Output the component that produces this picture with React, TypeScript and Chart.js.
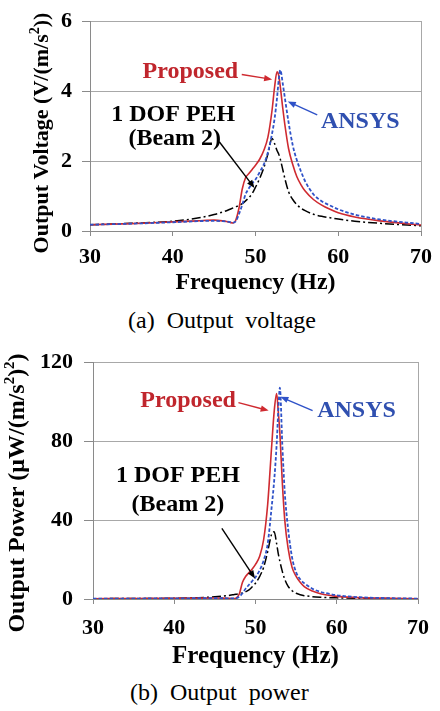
import React, { useEffect, useRef } from "react";
import { Chart, registerables } from "chart.js";

Chart.register(...registerables);

// ---------------- data ----------------
const freq = [30, 35, 40, 43, 45, 46, 46.5, 47, 47.3, 47.6, 48, 48.4, 48.8, 49.2, 49.6, 50, 50.5, 51, 51.5, 52, 52.3, 52.6, 52.8, 53, 53.3, 53.6, 54, 54.5, 55, 55.5, 56, 57, 58, 59, 60, 62, 65, 70];

const voltageProposed = [0.18, 0.21, 0.26, 0.29, 0.31, 0.29, 0.27, 0.24, 0.23, 0.3, 0.65, 1.2, 1.52, 1.64, 1.76, 1.88, 2.05, 2.3, 2.68, 3.45, 4.1, 4.55, 4.45, 4.12, 3.5, 2.95, 2.35, 1.9, 1.55, 1.32, 1.14, 0.9, 0.74, 0.62, 0.52, 0.4, 0.29, 0.17];
const voltageAnsys = [0.18, 0.21, 0.25, 0.28, 0.29, 0.28, 0.27, 0.25, 0.24, 0.27, 0.48, 0.75, 1.05, 1.22, 1.36, 1.47, 1.68, 1.9, 2.25, 2.78, 3.2, 3.8, 4.3, 4.6, 4.2, 3.72, 3.1, 2.45, 2.02, 1.7, 1.42, 1.05, 0.85, 0.73, 0.62, 0.47, 0.33, 0.2];
const voltageOneDof = [0.18, 0.22, 0.28, 0.37, 0.47, 0.54, 0.58, 0.63, 0.66, 0.69, 0.73, 0.78, 0.86, 0.95, 1.07, 1.25, 1.5, 1.8, 2.2, 2.64, 2.5, 2.3, 2.2, 2.05, 1.75, 1.45, 1.12, 0.9, 0.75, 0.65, 0.58, 0.48, 0.42, 0.38, 0.34, 0.28, 0.22, 0.15];

const powerProposed = [0.16, 0.22, 0.34, 0.42, 0.48, 0.42, 0.36, 0.29, 0.26, 0.45, 2.5, 8.5, 11.5, 13.4, 15.2, 17.5, 21.5, 30, 48, 78, 95, 104, 95, 84, 59, 40, 26, 16, 11.5, 8.5, 6.3, 4, 2.7, 1.9, 1.35, 0.8, 0.42, 0.15];
const powerAnsys = [0.16, 0.22, 0.31, 0.39, 0.42, 0.39, 0.36, 0.31, 0.29, 0.35, 1.2, 2.9, 5.3, 7.2, 9.1, 11, 14.5, 19.5, 28, 47, 60, 78, 95, 107, 78, 54, 36, 21, 13.5, 10, 8, 5.2, 3.6, 2.7, 1.9, 1.1, 0.55, 0.2];
const powerOneDof = [0.16, 0.24, 0.39, 0.68, 1.1, 1.45, 1.7, 2.0, 2.2, 2.4, 2.7, 3.1, 3.7, 4.6, 6.2, 8, 11.3, 16, 24, 33, 34, 28, 23, 19, 14, 10, 6.5, 4.2, 2.9, 2.2, 1.7, 1.2, 0.9, 0.7, 0.58, 0.4, 0.25, 0.12];

const freqTicks = [30, 40, 50, 60, 70];
const voltageTicks = [0, 2, 4, 6];
const powerTicks = [0, 40, 80, 120];

const seriesLabels = ["ANSYS", "Proposed", "1 DOF PEH (Beam 2)"];

// ---------------- styles ----------------
const SERIF = "'Liberation Serif', 'Times New Roman', Times, serif";
const RED = "#cf2a30";
const RED_TEXT = "#c0262d";
const BLUE = "#2f52c8";
const BLUE_TEXT = "#3050b0";
const GRID = "#a8a8a8";
const AXIS = "#8a8a8a";

type Seg = { t: string; sup?: boolean };
type Note = { text: string; x: number; y: number; color: string };
type Arrow = { from: [number, number]; to: [number, number]; color: string };

function drawRotatedRich(ctx: CanvasRenderingContext2D, segs: Seg[], cx: number, cy: number, size: number) {
  ctx.save();
  ctx.translate(cx, cy);
  ctx.rotate(-Math.PI / 2);
  ctx.textBaseline = "middle";
  ctx.textAlign = "left";
  ctx.fillStyle = "#000";
  const base = `bold ${size}px ${SERIF}`;
  const sup = `bold ${Math.round(size * 0.62)}px ${SERIF}`;
  let total = 0;
  for (const s of segs) {
    ctx.font = s.sup ? sup : base;
    total += ctx.measureText(s.t).width;
  }
  let x = -total / 2;
  for (const s of segs) {
    ctx.font = s.sup ? sup : base;
    ctx.fillText(s.t, x, s.sup ? -size * 0.32 : 0);
    x += ctx.measureText(s.t).width;
  }
  ctx.restore();
}

function makeNotesPlugin(id: string, notes: Note[], arrows: Arrow[], fontSize: number, yTitle: { segs: Seg[]; cx: number; cy: number; size: number }) {
  return {
    id,
    afterDraw(chart: any) {
      const ctx: CanvasRenderingContext2D = chart.ctx;
      const xs = chart.scales.x;
      const ys = chart.scales.y;
      ctx.save();
      for (const a of arrows) {
        const x1 = xs.getPixelForValue(a.from[0]);
        const y1 = ys.getPixelForValue(a.from[1]);
        const x2 = xs.getPixelForValue(a.to[0]);
        const y2 = ys.getPixelForValue(a.to[1]);
        const ang = Math.atan2(y2 - y1, x2 - x1);
        const L = 8, W = 3.2;
        ctx.strokeStyle = a.color;
        ctx.fillStyle = a.color;
        ctx.lineWidth = 1.4;
        ctx.setLineDash([]);
        ctx.beginPath();
        ctx.moveTo(x1, y1);
        ctx.lineTo(x2 - Math.cos(ang) * L * 0.8, y2 - Math.sin(ang) * L * 0.8);
        ctx.stroke();
        ctx.beginPath();
        ctx.moveTo(x2, y2);
        ctx.lineTo(x2 - Math.cos(ang) * L - Math.sin(ang) * W, y2 - Math.sin(ang) * L + Math.cos(ang) * W);
        ctx.lineTo(x2 - Math.cos(ang) * L + Math.sin(ang) * W, y2 - Math.sin(ang) * L - Math.cos(ang) * W);
        ctx.closePath();
        ctx.fill();
      }
      ctx.textAlign = "center";
      ctx.textBaseline = "middle";
      ctx.font = `bold ${fontSize}px ${SERIF}`;
      for (const n of notes) {
        ctx.fillStyle = n.color;
        ctx.fillText(n.text, xs.getPixelForValue(n.x), ys.getPixelForValue(n.y));
      }
      ctx.restore();
      drawRotatedRich(ctx, yTitle.segs, yTitle.cx, yTitle.cy, yTitle.size);
    },
  };
}

type PanelSpec = {
  width: number;
  height: number;
  yValues: number[][];
  yMax: number;
  yTicks: number[];
  yAxisWidth: number;
  xAxisHeight: number;
  padTop: number;
  padRight: number;
  xTickPad: number;
  yTickLen: number;
  yTickPad: number;
  xTitleSize: number;
  xTitlePadBottom: number;
  tickSize: number;
  plugin: any;
};

function buildConfig(p: PanelSpec): any {
  const colors = [BLUE, RED, "#000"];
  const widths = [1.8, 1.6, 1.5];
  const dashes = [[3.5, 2], [], [9, 3, 2, 3]];
  const datasets = p.yValues.map((vals, k) => ({
    label: seriesLabels[k],
    data: freq.map((f, i) => ({ x: f, y: vals[i] })),
    borderColor: colors[k],
    backgroundColor: colors[k],
    borderWidth: widths[k],
    borderDash: dashes[k],
    pointRadius: 0,
    fill: false,
    cubicInterpolationMode: "monotone",
  }));
  const tickFont = { family: SERIF, size: p.tickSize, weight: "bold" as const, lineHeight: 1.2 };
  return {
    type: "line",
    data: { datasets },
    options: {
      animation: false,
      responsive: false,
      devicePixelRatio: 1,
      layout: { padding: { top: p.padTop, right: p.padRight, left: 0, bottom: 0 } },
      plugins: { legend: { display: false }, tooltip: { enabled: false }, title: { display: false } },
      scales: {
        x: {
          type: "linear",
          min: 30,
          max: 70,
          afterBuildTicks: (s: any) => {
            s.ticks = freqTicks.map((v) => ({ value: v }));
          },
          afterFit: (s: any) => {
            s.height = p.xAxisHeight;
          },
          ticks: { font: tickFont, color: "#000", padding: p.xTickPad, maxRotation: 0, autoSkip: false },
          grid: {
            drawOnChartArea: true,
            color: (c: any) => (c.tick && c.tick.value === 70 ? GRID : "rgba(0,0,0,0)"),
            tickColor: AXIS,
            tickLength: 5,
            lineWidth: 1,
          },
          border: { display: true, color: AXIS, width: 1 },
          title: {
            display: true,
            text: "Frequency (Hz)",
            color: "#000",
            font: { family: SERIF, size: p.xTitleSize, weight: "bold", lineHeight: 1.2 },
            padding: { top: 0, bottom: p.xTitlePadBottom },
          },
        },
        y: {
          type: "linear",
          min: 0,
          max: p.yMax,
          afterBuildTicks: (s: any) => {
            s.ticks = p.yTicks.map((v) => ({ value: v }));
          },
          afterFit: (s: any) => {
            s.width = p.yAxisWidth;
          },
          ticks: { font: { ...tickFont, lineHeight: 1 }, color: "#000", padding: p.yTickPad },
          grid: { color: GRID, tickColor: AXIS, tickLength: p.yTickLen, lineWidth: 1 },
          border: { display: true, color: AXIS, width: 1 },
          title: { display: false },
        },
      },
    },
    plugins: [p.plugin],
  };
}

function Panel({ spec, top }: { spec: PanelSpec; top: number }) {
  const ref = useRef<HTMLCanvasElement>(null);
  useEffect(() => {
    const chart = new Chart(ref.current as HTMLCanvasElement, buildConfig(spec));
    return () => chart.destroy();
  }, []);
  return (
    <canvas
      ref={ref}
      width={spec.width}
      height={spec.height}
      style={{ position: "absolute", left: 0, top, width: spec.width, height: spec.height }}
    />
  );
}

const voltagePanel: PanelSpec = {
  width: 440,
  height: 300,
  yValues: [voltageAnsys, voltageProposed, voltageOneDof],
  yMax: 6,
  yTicks: voltageTicks,
  yAxisWidth: 90,
  xAxisHeight: 69,
  padTop: 12,
  padRight: 12,
  xTickPad: 8,
  yTickLen: 8,
  yTickPad: 10,
  xTitleSize: 24,
  xTitlePadBottom: 3,
  tickSize: 22,
  plugin: makeNotesPlugin(
    "voltageNotes",
    [
      { text: "Proposed", x: 42.13, y: 4.55, color: RED_TEXT },
      { text: "ANSYS", x: 62.66, y: 3.12, color: BLUE_TEXT },
      { text: "1 DOF PEH", x: 40.06, y: 3.32, color: "#000" },
      { text: "(Beam 2)", x: 40.24, y: 2.63, color: "#000" },
    ],
    [
      { from: [48.34, 4.47], to: [52.01, 4.33], color: RED },
      { from: [57.46, 3.32], to: [53.9, 3.7], color: BLUE },
      { from: [45.62, 2.55], to: [49.88, 1.23], color: "#000" },
    ],
    24,
    { segs: [{ t: "Output Voltage (V/(m/s" }, { t: "2", sup: true }, { t: "))" }], cx: 42, cy: 133, size: 22 }
  ),
};

const powerPanel: PanelSpec = {
  width: 440,
  height: 332,
  yValues: [powerAnsys, powerProposed, powerOneDof],
  yMax: 120,
  yTicks: powerTicks,
  yAxisWidth: 93,
  xAxisHeight: 73,
  padTop: 18,
  padRight: 14,
  xTickPad: 11,
  yTickLen: 9,
  yTickPad: 11,
  xTitleSize: 25,
  xTitlePadBottom: 0,
  tickSize: 22,
  plugin: makeNotesPlugin(
    "powerNotes",
    [
      { text: "Proposed", x: 41.71, y: 100.4, color: RED_TEXT },
      { text: "ANSYS", x: 62.43, y: 95.4, color: BLUE_TEXT },
      { text: "1 DOF PEH", x: 40.45, y: 62.6, color: "#000" },
      { text: "(Beam 2)", x: 40.45, y: 47.7, color: "#000" },
    ],
    [
      { from: [47.9, 99.4], to: [51.62, 95.4], color: RED },
      { from: [57.03, 95.4], to: [53.06, 102.4], color: BLUE },
      { from: [45.86, 35.8], to: [49.94, 10.4], color: "#000" },
    ],
    24,
    { segs: [{ t: "Output Power (\u03bcW/(m/s" }, { t: "2", sup: true }, { t: ")" }, { t: "2", sup: true }, { t: ")" }], cx: 18, cy: 153, size: 24 }
  ),
};

const captionStyle: React.CSSProperties = {
  position: "absolute",
  fontFamily: SERIF,
  fontSize: 24,
  lineHeight: "28px",
  whiteSpace: "pre",
  color: "#000",
};

export default function App() {
  return (
    <div style={{ position: "absolute", left: 0, top: 0, width: 440, height: 711, background: "#fff", overflow: "hidden" }}>
      <Panel spec={voltagePanel} top={0} />
      <div style={{ ...captionStyle, left: 128, top: 306 }}>{"(a)  Output  voltage"}</div>
      <Panel spec={powerPanel} top={340} />
      <div style={{ ...captionStyle, left: 130, top: 678 }}>{"(b)  Output  power"}</div>
    </div>
  );
}
